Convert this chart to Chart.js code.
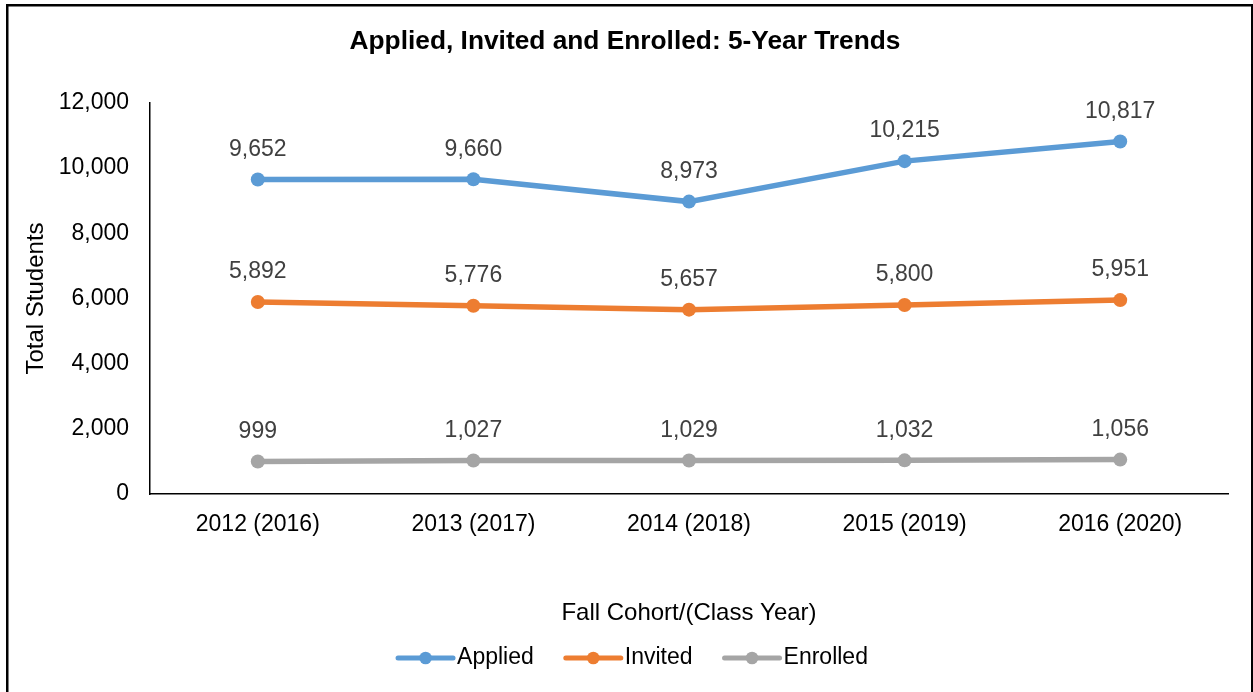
<!DOCTYPE html>
<html><head><meta charset="utf-8">
<script src="https://cdn.jsdelivr.net/npm/chart.js@4.4.0/dist/chart.umd.min.js"></script>
<style>html,body{margin:0;padding:0;background:#fff;overflow:hidden}#wrap{position:absolute;left:0;top:0;width:1253px;height:692px}</style>
</head><body><div id="wrap"><canvas id="c" width="1253" height="692"></canvas></div>
<script>
const categories = ["2012 (2016)", "2013 (2017)", "2014 (2018)", "2015 (2019)", "2016 (2020)"];
const applied = [9652, 9660, 8973, 10215, 10817];
const invited = [5892, 5776, 5657, 5800, 5951];
const enrolled = [999, 1027, 1029, 1032, 1056];
const seriesNames = ["Applied", "Invited", "Enrolled"];
const seriesColors = ["#5B9BD5", "#ED7D31", "#A5A5A5"];
const yTickValues = [0, 2000, 4000, 6000, 8000, 10000, 12000];
const chartTitle = "Applied, Invited and Enrolled: 5-Year Trends";
const xTitle = "Fall Cohort/(Class Year)";
const yTitle = "Total Students";

const FONT = "'Liberation Sans', Arial, Helvetica, sans-serif";
const fmt = v => v.toLocaleString('en-US');

const framePlugin = {
  id: 'frame',
  beforeDraw(chart) {
    const ctx = chart.ctx;
    ctx.save();
    ctx.fillStyle = '#fff';
    ctx.fillRect(0, 0, chart.width, chart.height);
    ctx.restore();
  },
  afterDraw(chart) {
    const ctx = chart.ctx;
    ctx.save();
    ctx.strokeStyle = '#000';
    ctx.lineWidth = 2.5;
    ctx.strokeRect(7.25, 5.25, 1245, 700);
    ctx.restore();
  }
};

const labelPlugin = {
  id: 'pointLabels',
  afterDatasetsDraw(chart) {
    const ctx = chart.ctx;
    ctx.save();
    ctx.font = '23px ' + FONT;
    ctx.fillStyle = '#404040';
    ctx.textAlign = 'center';
    ctx.textBaseline = 'middle';
    chart.data.datasets.forEach((ds, di) => {
      const meta = chart.getDatasetMeta(di);
      meta.data.forEach((pt, i) => {
        ctx.fillText(fmt(ds.data[i]), pt.x, pt.y - 30);
      });
    });
    ctx.restore();
  }
};

const legendPlugin = {
  id: 'customLegend',
  afterDraw(chart) {
    const ctx = chart.ctx;
    ctx.save();
    ctx.font = '23px ' + FONT;
    const lineLen = 55, gapText = 4, gapItem = 32;
    const widths = chart.data.datasets.map(ds => ctx.measureText(ds.label).width);
    let total = 0;
    widths.forEach((w, i) => { total += lineLen + gapText + w + (i < widths.length - 1 ? gapItem : 0); });
    let x = 633 - total / 2;
    const y = 658;
    chart.data.datasets.forEach((ds, i) => {
      ctx.strokeStyle = ds.borderColor;
      ctx.lineWidth = 5;
      ctx.lineCap = 'round';
      ctx.beginPath();
      ctx.moveTo(x, y);
      ctx.lineTo(x + lineLen, y);
      ctx.stroke();
      ctx.fillStyle = ds.borderColor;
      ctx.beginPath();
      ctx.arc(x + lineLen / 2, y, 6.3, 0, Math.PI * 2);
      ctx.fill();
      ctx.fillStyle = '#000';
      ctx.textAlign = 'left';
      ctx.textBaseline = 'middle';
      ctx.fillText(ds.label, x + lineLen + gapText, y);
      x += lineLen + gapText + widths[i] + gapItem;
    });
    ctx.restore();
  }
};

const seriesData = [applied, invited, enrolled];
new Chart(document.getElementById('c'), {
  type: 'line',
  data: {
    labels: categories,
    datasets: seriesData.map((d, i) => ({
      label: seriesNames[i],
      data: d,
      borderColor: seriesColors[i],
      backgroundColor: seriesColors[i],
      borderWidth: 5.5,
      pointRadius: 7,
      pointHoverRadius: 7,
      pointBorderWidth: 0,
      tension: 0,
      fill: false
    }))
  },
  options: {
    responsive: false,
    devicePixelRatio: 1,
    animation: false,
    events: [],
    layout: { padding: { left: 22, right: 25, top: 0, bottom: 64.6 } },
    plugins: {
      legend: { display: false },
      tooltip: { enabled: false },
      title: {
        display: true,
        text: chartTitle,
        color: '#000',
        font: { family: FONT, size: 26.3, weight: 'bold' },
        padding: { top: 26.4, bottom: 45 }
      }
    },
    scales: {
      x: {
        type: 'category',
        offset: true,
        grid: { display: false, drawTicks: false },
        border: { display: true, color: '#000', width: 1.5 },
        ticks: { color: '#000', font: { family: FONT, size: 23 }, padding: 17, maxRotation: 0, autoSkip: false },
        title: { display: true, text: xTitle, color: '#000', font: { family: FONT, size: 24 }, padding: { top: 43, bottom: 0 } }
      },
      y: {
        min: 0,
        max: 12000,
        grid: { display: false, drawTicks: false },
        border: { display: true, color: '#000', width: 1.5 },
        afterBuildTicks(scale) { scale.ticks = yTickValues.map(v => ({ value: v })); },
        afterFit(scale) { scale.width = 128; },
        ticks: { color: '#000', font: { family: FONT, size: 23 }, padding: 21, callback: v => fmt(v) },
        title: { display: true, text: yTitle, color: '#000', font: { family: FONT, size: 24 }, padding: { top: 0, bottom: 0 } }
      }
    }
  },
  plugins: [framePlugin, labelPlugin, legendPlugin]
});
</script>
</body></html>
